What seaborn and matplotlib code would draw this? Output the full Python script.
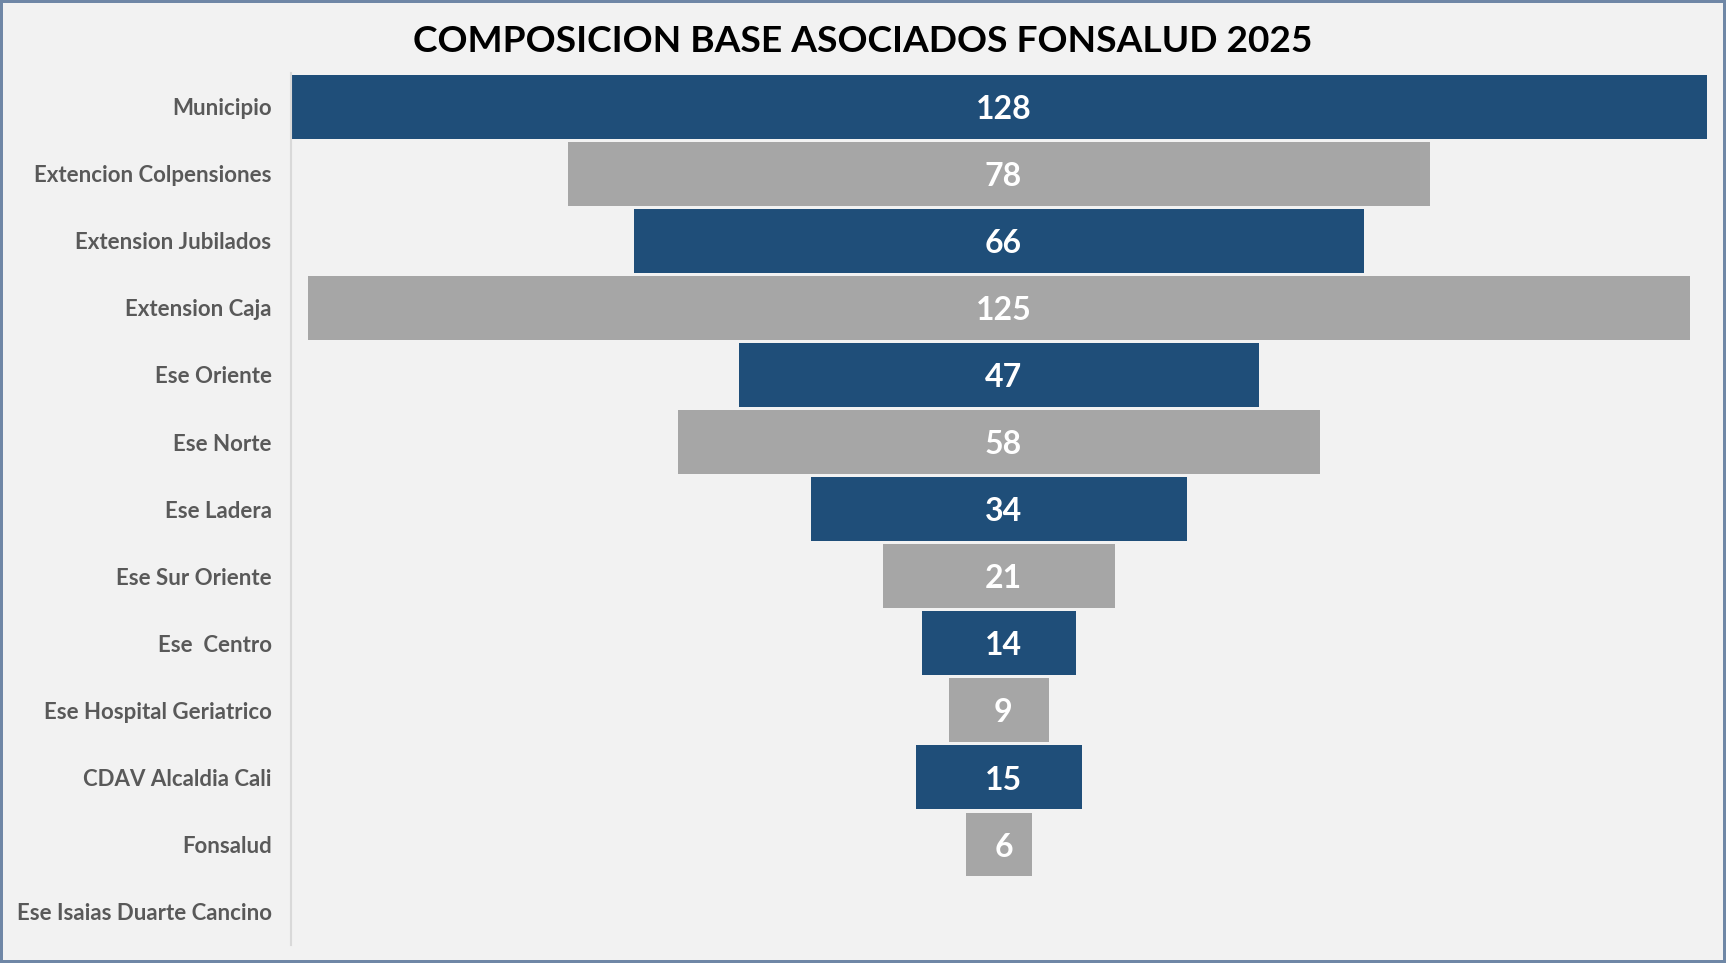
import matplotlib
matplotlib.use("Agg")
import matplotlib.pyplot as plt
import seaborn as sns
import pandas as pd

categories = ["Municipio", "Extencion Colpensiones", "Extension Jubilados", "Extension Caja",
              "Ese Oriente", "Ese Norte", "Ese Ladera", "Ese Sur Oriente", "Ese  Centro",
              "Ese Hospital Geriatrico", "CDAV Alcaldia Cali", "Fonsalud",
              "Ese Isaias Duarte Cancino"]
values = [128, 78, 66, 125, 47, 58, 34, 21, 14, 9, 15, 6, 0]
title = "COMPOSICION BASE ASOCIADOS FONSALUD 2025"

BLUE = "#1F4E79"
GREY = "#A6A6A6"
BG = "#F2F2F2"
colors = [BLUE if i % 2 == 0 else GREY for i in range(len(categories))]

df = pd.DataFrame({"cat": categories, "val": values})
df["right"] = df["val"] / 2
df["left"] = -df["val"] / 2

sns.set_theme(style="white")
plt.rcParams["font.family"] = ["Lato", "DejaVu Sans"]

fig = plt.figure(figsize=(17.26, 9.63), dpi=100, facecolor=BG)
ax = fig.add_axes([0.1686, 0.0187, 0.989 - 0.1686, 0.924 - 0.0187])
ax.set_facecolor(BG)

pal = dict(zip(categories, colors))
for col in ["right", "left"]:
    sns.barplot(data=df, x=col, y="cat", hue="cat", palette=pal, legend=False,
                width=0.95, linewidth=0, orient="h", ax=ax, saturation=1)

vmax = max(values)
ax.set_xlim(-vmax / 2, vmax / 2)
ax.set_ylim(len(categories) - 0.5, -0.5)
ax.set_xlabel("")
ax.set_ylabel("")
ax.set_xticks([])
for s in ["top", "right", "bottom"]:
    ax.spines[s].set_visible(False)
ax.spines["left"].set_color("#D9D9D9")
ax.spines["left"].set_linewidth(1.5)
ax.tick_params(axis="y", length=0, pad=14, labelsize=16, labelcolor="#595959")
for lbl in ax.get_yticklabels():
    lbl.set_fontweight("bold")

for i, v in enumerate(values):
    if v > 0:
        ax.text(0.4, i + 0.04, str(v), ha="center", va="center", color="white",
                fontsize=23, fontweight="bold")

fig.text(0.5, 0.957, title, ha="center", va="center", fontsize=26.7,
         fontweight="bold", color="black")

fig.patch.set_edgecolor("#6F87A6")
fig.patch.set_linewidth(3)

fig.savefig("out.png", dpi=100, facecolor=BG, edgecolor=fig.get_edgecolor())
